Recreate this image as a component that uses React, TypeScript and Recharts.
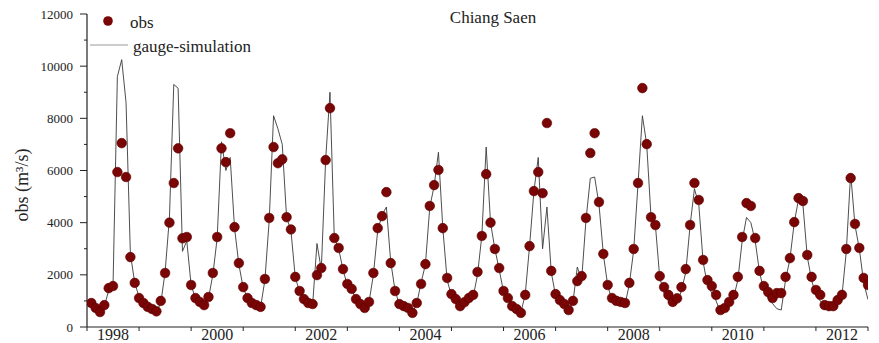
import React from 'react';
import { ComposedChart, Line, Scatter, XAxis, YAxis, Legend } from 'recharts';

// Monthly discharge at Chiang Saen, Jan 1998 - Dec 2012 (m³/s)
const START_YEAR = 1998;

const obsFlow = [
  920, 730, 575, 840, 1490, 1570, 5940, 7050, 5750, 2680, 1690, 1110, // 1998
  920, 770, 690, 600, 1000, 2070, 4000, 5520, 6850, 3400, 3450, 1610, // 1999
  1110, 960, 840, 1150, 2070, 3450, 6850, 6320, 7430, 3830, 2450, 1530, // 2000
  1110, 920, 840, 770, 1840, 4180, 6900, 6280, 6430, 4210, 3740, 1920, // 2001
  1380, 1070, 920, 880, 1990, 2260, 6400, 8390, 3410, 3030, 2220, 1650, // 2002
  1460, 1070, 880, 730, 960, 2070, 3790, 4250, 5170, 2450, 1380, 880, // 2003
  800, 730, 540, 920, 1650, 2410, 4640, 5440, 6020, 3790, 1880, 1260, // 2004
  1070, 800, 950, 1110, 1230, 2110, 3490, 5860, 4000, 2990, 2260, 1380, // 2005
  1110, 800, 690, 540, 1230, 3100, 5210, 5940, 5130, 7820, 2150, 1260, // 2006
  1030, 880, 650, 1000, 1760, 1950, 4180, 6670, 7430, 4790, 2800, 1610, // 2007
  1110, 1000, 960, 920, 1690, 2990, 5520, 9160, 7010, 4210, 3910, 1950, // 2008
  1530, 1230, 960, 1100, 1530, 2220, 3910, 5520, 4870, 2570, 1800, 1570, // 2009
  1230, 650, 730, 960, 1230, 1920, 3450, 4750, 4640, 3410, 2150, 1570, // 2010
  1340, 1110, 1300, 1300, 1920, 2640, 4020, 4940, 4830, 2760, 1920, 1420, // 2011
  1230, 840, 800, 800, 1030, 1230, 2990, 5710, 3950, 3030, 1880, 1610, // 2012
];

const simFlow = [
  900, 700, 600, 800, 1400, 1600, 9600, 10250, 8600, 2800, 1700, 1150, // 1998
  900, 750, 650, 600, 900, 2100, 4200, 9300, 9150, 2900, 3300, 1600, // 1999
  1100, 950, 850, 1100, 2000, 3400, 7100, 6000, 6500, 3800, 2400, 1500, // 2000
  1100, 900, 800, 750, 1800, 4100, 8100, 7600, 7000, 4200, 3700, 1900, // 2001
  1350, 1050, 900, 850, 3200, 2200, 6400, 9000, 3400, 3000, 2200, 1600, // 2002
  1450, 1050, 850, 700, 950, 2000, 3700, 4300, 4600, 2500, 1400, 850, // 2003
  750, 700, 550, 900, 1700, 2400, 4600, 5400, 6700, 3800, 1800, 1200, // 2004
  1050, 800, 900, 1000, 1150, 2000, 3500, 6900, 4000, 3000, 2200, 1350, // 2005
  1100, 800, 650, 550, 1250, 3100, 5200, 6500, 3000, 4600, 2100, 1200, // 2006
  1000, 850, 650, 950, 2300, 1800, 4100, 5700, 5750, 4700, 2800, 1600, // 2007
  1000, 900, 850, 850, 1650, 2950, 5500, 8100, 7000, 4200, 3900, 1900, // 2008
  1300, 1000, 800, 900, 1400, 2100, 3900, 5300, 4700, 2500, 1600, 1300, // 2009
  1000, 550, 600, 800, 1100, 1800, 3300, 4200, 4000, 3300, 2100, 1400, // 2010
  1100, 900, 700, 650, 1800, 2600, 4000, 4900, 4700, 2700, 1800, 1200, // 2011
  1000, 750, 700, 700, 900, 1200, 2900, 5900, 3900, 3000, 1700, 1050, // 2012
];

const yearTicks = [1998, 1999, 2000, 2001, 2002, 2003, 2004, 2005, 2006, 2007, 2008, 2009, 2010, 2011, 2012, 2013];
const flowTicks = [0, 1000, 2000, 3000, 4000, 5000, 6000, 7000, 8000, 9000, 10000, 11000, 12000];

const W = 879;
const H = 343;
const PLOT_LEFT = 87;
const PLOT_RIGHT = 868;
const HALF_YEAR = (PLOT_RIGHT - PLOT_LEFT) / (yearTicks.length - 1) / 2;
const serif = { fontFamily: "'Liberation Serif', 'DejaVu Serif', serif" };

const rows = obsFlow.map((v, i) => ({
  t: START_YEAR + (i + 1) / 12,
  obs: v,
  sim: simFlow[i],
}));

// year ticks sit on Jan 1, labels are centred inside the even years
const YearTick = (props: any) => {
  const { x, y, payload } = props;
  const yr = payload.value;
  return (
    <g>
      <line x1={x} x2={x} y1={y} y2={y + 4} stroke="#222" strokeWidth={1} />
      {yr % 2 === 0 && yr < 2013 && (
        <text x={x + HALF_YEAR} y={y + 13} textAnchor="middle" fontSize={16} style={serif} fill="#222">
          {yr}
        </text>
      )}
    </g>
  );
};

const FlowTick = (props: any) => {
  const { x, y, payload } = props;
  const major = payload.value % 2000 === 0;
  return (
    <g>
      <line x1={x - (major ? 7 : 3)} x2={x} y1={y} y2={y} stroke="#222" strokeWidth={1} />
      {major && (
        <text x={x - 14} y={y + 4.5} textAnchor="end" fontSize={13} style={serif} fill="#222">
          {payload.value}
        </text>
      )}
    </g>
  );
};

const ObsDot = (props: any) => {
  const { cx, cy } = props;
  if (cx == null || cy == null) return null;
  return <circle cx={cx} cy={cy} r={4.8} fill="#7a0505" stroke="#5a0000" strokeWidth={0.6} />;
};

const LegendBox = () => (
  <svg width={270} height={60} style={{ display: 'block' }}>
    <circle cx={108} cy={21} r={4.8} fill="#7a0505" />
    <text x={130} y={28} fontSize={17} style={serif} fill="#222">obs</text>
    <line x1={90} x2={128} y1={45} y2={45} stroke="#999" strokeWidth={1} />
    <text x={133} y={52} fontSize={17} style={serif} fill="#222">gauge-simulation</text>
  </svg>
);

export default function App() {
  return (
    <div style={{ position: 'absolute', left: 0, top: 0, width: W, height: H, background: '#fff' }}>
      <ComposedChart width={W} height={H} data={rows} margin={{ top: 14, right: W - PLOT_RIGHT, bottom: 0, left: 0 }}>
        <XAxis
          type="number"
          dataKey="t"
          domain={[1998, 2013]}
          ticks={yearTicks}
          interval={0}
          allowDataOverflow
          height={16}
          tickLine={false}
          tickSize={0}
          tickMargin={0}
          tick={<YearTick />}
          axisLine={{ stroke: '#222', strokeWidth: 1.2 }}
        />
        <YAxis
          type="number"
          domain={[0, 12000]}
          ticks={flowTicks}
          interval={0}
          width={PLOT_LEFT}
          tickLine={false}
          tickSize={0}
          tickMargin={0}
          tick={<FlowTick />}
          axisLine={{ stroke: '#222', strokeWidth: 1.2 }}
        />
        <Legend
          layout="horizontal"
          verticalAlign="middle"
          align="center"
          content={() => <LegendBox />}
          wrapperStyle={{ position: 'absolute', left: 0, top: 0, width: 270, height: 60 }}
        />
        <Line
          type="linear"
          dataKey="sim"
          name="gauge-simulation"
          stroke="#3a3a3a"
          strokeWidth={0.9}
          dot={false}
          activeDot={false}
          isAnimationActive={false}
        />
        <Scatter dataKey="obs" name="obs" shape={<ObsDot />} isAnimationActive={false} />
      </ComposedChart>
      <svg width={W} height={H} style={{ position: 'absolute', left: 0, top: 0, pointerEvents: 'none' }}>
        <text x={493} y={23} textAnchor="middle" fontSize={17} style={serif} fill="#222">
          Chiang Saen
        </text>
        <text
          x={28}
          y={185}
          textAnchor="middle"
          fontSize={18}
          style={serif}
          fill="#222"
          transform="rotate(-90 28 185)"
        >
          obs (m³/s)
        </text>
      </svg>
    </div>
  );
}
